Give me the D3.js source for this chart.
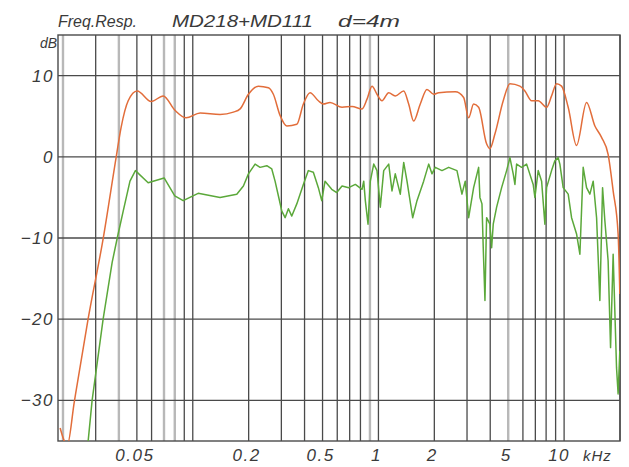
<!DOCTYPE html>
<html>
<head>
<meta charset="utf-8">
<script src="https://cdn.jsdelivr.net/npm/d3@7"></script>
<style>
  html, body { margin: 0; padding: 0; background: #fff; }
  svg { display: block; }
  .lbl { font-family: "Liberation Sans", Arial, sans-serif; font-style: italic; fill: #3a3a3a; }
</style>
</head>
<body>
<svg id="chart" width="629" height="467"></svg>
<script>
// Freq. response, MD218+MD111, d=4m

// grid frequencies (kHz); the "light" ones are the washed-out lines in the scan
const gridFreqs = [0.02, 0.03, 0.04, 0.05, 0.06, 0.07, 0.08, 0.09, 0.1, 0.2, 0.3, 0.4, 0.5,
  0.6, 0.7, 0.8, 0.9, 1, 2, 3, 4, 5, 6, 7, 8, 9, 10, 20];
const lightFreqs = [0.02, 0.04, 0.07, 0.08, 0.9, 5];
const xTicks = [0.05, 0.2, 0.5, 1, 2, 5, 10];
const xTickLabels = ['0.05', '0.2', '0.5', '1', '2', '5', '10'];
const yTicks = [10, 0, -10, -20, -30];

// orange (upper) curve
const orangeFreq = [0.0193, 0.0211, 0.0230, 0.0273, 0.0329, 0.0387, 0.0411, 0.0449, 0.0502, 0.0597,
  0.0693, 0.0804, 0.0921, 0.1096, 0.1403, 0.1655, 0.1799, 0.1994, 0.2256, 0.2554,
  0.2717, 0.2952, 0.3209, 0.3633, 0.3941, 0.4282, 0.4747, 0.505, 0.5487, 0.6367,
  0.7206, 0.8158, 0.868, 0.9233, 0.9824, 1.045, 1.136, 1.232, 1.368, 1.455,
  1.548, 1.680, 1.825, 1.984, 2.111, 2.592, 2.877, 3.061, 3.256, 3.464,
  3.824, 3.984, 4.239, 4.700, 5.107, 5.781, 6.150, 6.682, 7.252, 8.047,
  8.561, 9.107, 9.691, 10.52, 11.67, 13.21, 14.65, 15.91, 17.26, 18.37, 19.54, 19.96];
const orangeDb = [-33.4, -35.5, -30.2, -20.0, -10.1, 0.0, 3.6, 6.9, 8.1, 6.8,
  7.5, 5.7, 4.8, 5.4, 5.2, 5.5, 5.9, 7.7, 8.7, 8.5,
  7.7, 5.1, 3.8, 4.0, 6.5, 7.9, 6.9, 6.5, 6.7, 6.1,
  6.2, 5.9, 7.1, 8.7, 7.7, 6.9, 7.9, 7.5, 8.1, 6.5,
  4.4, 6.5, 8.3, 7.7, 7.9, 8.0, 7.3, 4.8, 6.5, 6.1,
  1.6, 1.0, 2.8, 6.9, 9.0, 8.7, 8.1, 6.9, 6.9, 6.1,
  7.5, 9.0, 8.7, 6.1, 1.4, 6.7, 3.8, 2.4, 0.3, -4.2, -9.5, -16.9];

// green (lower) curve
const greenFreq = [0.0273, 0.0287, 0.0329, 0.0368, 0.0392, 0.0422, 0.0459, 0.0491, 0.0575, 0.0701,
  0.0800, 0.0888, 0.1069, 0.1403, 0.1726, 0.1874, 0.1994, 0.2166, 0.2304, 0.2504,
  0.2664, 0.2775, 0.2891, 0.3017, 0.3143, 0.3274, 0.3414, 0.3633, 0.3941, 0.4193,
  0.4461, 0.4747, 0.4950, 0.5157, 0.5603, 0.5962, 0.6367, 0.6918, 0.7508, 0.8158,
  0.8332, 0.8500, 0.8788, 0.9042, 0.9432, 0.9824, 1.0235, 1.0675, 1.136, 1.183,
  1.232, 1.311, 1.368, 1.425, 1.529, 1.613, 1.752, 1.865, 1.942, 2.023,
  2.199, 2.389, 2.648, 2.817, 2.935, 3.061, 3.256, 3.464, 3.520, 3.611,
  3.668, 3.747, 3.824, 3.984, 4.071, 4.152, 4.331, 4.608, 4.902, 5.107,
  5.320, 5.434, 5.549, 5.904, 6.281, 6.816, 6.960, 7.252, 7.565, 7.879,
  8.047, 8.561, 8.917, 9.290, 9.489, 9.885, 10.52, 10.97, 11.67, 12.16,
  12.67, 13.21, 13.77, 14.34, 14.96, 15.58, 16.11, 16.58, 17.26, 17.79,
  18.37, 19.16, 19.54, 19.96];
const greenDb = [-35.1, -30.0, -20.0, -13.0, -10.0, -6.7, -3.0, -1.7, -3.2, -2.6,
  -4.8, -5.4, -4.5, -5.0, -4.6, -3.6, -2.1, -0.9, -1.3, -1.1,
  -1.5, -3.0, -4.8, -6.7, -7.5, -6.4, -7.3, -5.8, -3.4, -1.7,
  -1.9, -3.8, -5.4, -3.0, -4.0, -4.4, -3.6, -3.8, -3.4, -4.0,
  -3.0, -5.4, -8.3, -3.0, -0.9, -1.7, -6.2, -1.7, -0.9, -4.2,
  -2.1, -4.6, -0.7, -3.0, -7.5, -5.4, -3.0, -0.9, -2.1, -1.3,
  -1.7, -1.3, -1.7, -4.6, -3.0, -7.5, -3.8, -1.3, -5.0, -5.8,
  -11.2, -17.7, -7.5, -8.3, -11.2, -8.3, -6.2, -3.8, -1.7, -0.1,
  -2.1, -3.4, -0.9, -1.3, -0.9, -3.4, -5.0, -1.7, -3.0, -8.3,
  -3.8, -1.7, -0.5, -0.1, -0.9, -3.8, -4.6, -7.5, -9.5, -12.0,
  -1.3, -3.8, -4.6, -3.0, -7.5, -17.7, -3.8, -7.9, -12.8, -23.5,
  -12.0, -26.0, -29.2, -23.9];

const svg = d3.select('#chart');
const plotLeft = 58, plotRight = 620, plotTop = 35, plotBottom = 441;

const x = d3.scaleLog().domain([0.0188, 20]).range([plotLeft, plotRight]);
const y = d3.scaleLinear().domain([-35, 15]).range([plotBottom, plotTop]);

svg.append('defs').append('clipPath').attr('id', 'plot')
  .append('rect').attr('x', plotLeft).attr('y', plotTop)
  .attr('width', plotRight - plotLeft).attr('height', plotBottom - plotTop);

// vertical grid
svg.append('g').selectAll('line')
  .data(gridFreqs)
  .join('line')
  .attr('x1', d => x(d)).attr('x2', d => x(d))
  .attr('y1', plotTop).attr('y2', plotBottom)
  .attr('stroke', d => lightFreqs.includes(d) ? '#b8b8b8' : '#4a4a4a')
  .attr('stroke-width', d => lightFreqs.includes(d) ? 2.4 : 1.3);

// horizontal grid
svg.append('g').selectAll('line')
  .data(yTicks)
  .join('line')
  .attr('x1', plotLeft).attr('x2', plotRight)
  .attr('y1', d => y(d)).attr('y2', d => y(d))
  .attr('stroke', '#4a4a4a')
  .attr('stroke-width', 1.3);

// frame
svg.append('rect')
  .attr('x', plotLeft).attr('y', plotTop)
  .attr('width', plotRight - plotLeft).attr('height', plotBottom - plotTop)
  .attr('fill', 'none').attr('stroke', '#4a4a4a').attr('stroke-width', 1.4);

const line = d3.line().x(d => x(d[0])).y(d => y(d[1]));
const plot = svg.append('g').attr('clip-path', 'url(#plot)');

plot.append('path')
  .datum(d3.zip(greenFreq, greenDb))
  .attr('d', line.curve(d3.curveLinear))
  .attr('fill', 'none').attr('stroke', '#5ba83a').attr('stroke-width', 1.5)
  .attr('stroke-linejoin', 'round');

plot.append('path')
  .datum(d3.zip(orangeFreq, orangeDb))
  .attr('d', line.curve(d3.curveMonotoneX))
  .attr('fill', 'none').attr('stroke', '#e26d3a').attr('stroke-width', 1.5);

// y labels
svg.append('g').selectAll('text')
  .data(yTicks)
  .join('text')
  .attr('class', 'lbl')
  .attr('x', 54).attr('y', d => y(d) + 6)
  .attr('text-anchor', 'end')
  .attr('font-size', 17).attr('letter-spacing', 1.5)
  .text(d => d === 0 ? '0' : d3.format('d')(d).replace('-', '\u2212'));

svg.append('text').attr('class', 'lbl')
  .attr('x', 57).attr('y', 48)
  .attr('text-anchor', 'end').attr('font-size', 14)
  .text('dB');

// x labels
svg.append('g').selectAll('text')
  .data(xTicks)
  .join('text')
  .attr('class', 'lbl')
  .attr('x', d => x(d) - (d === 10 ? 5 : 2))
  .attr('y', 461)
  .attr('text-anchor', 'middle')
  .attr('font-size', 17).attr('letter-spacing', 1.5)
  .text((d, i) => xTickLabels[i]);

svg.append('text').attr('class', 'lbl')
  .attr('x', 583).attr('y', 461)
  .attr('font-size', 15).attr('letter-spacing', 1)
  .text('kHz');

// title
const title = svg.append('g').attr('class', 'lbl').attr('font-size', 16);
title.append('text').attr('x', 58).attr('y', 27)
  .attr('textLength', 79).attr('lengthAdjust', 'spacingAndGlyphs').text('Freq.Resp.');
title.append('text').attr('x', 172).attr('y', 27)
  .attr('textLength', 141).attr('lengthAdjust', 'spacingAndGlyphs').text('MD218+MD111');
title.append('text').attr('x', 338).attr('y', 27)
  .attr('textLength', 62).attr('lengthAdjust', 'spacingAndGlyphs').text('d=4m');
</script>
</body>
</html>
